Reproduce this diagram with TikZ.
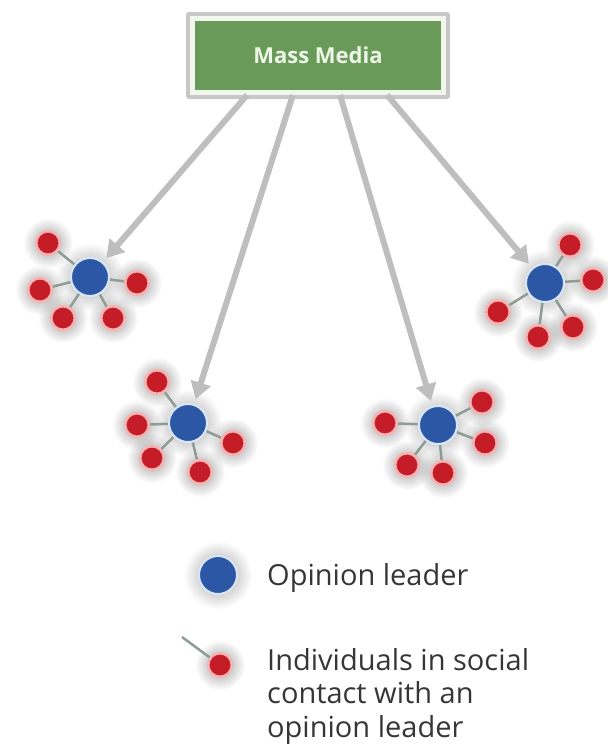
\documentclass[tikz,border=0pt]{standalone}
\usepackage{fontspec}
\setmainfont{Open Sans}
\usetikzlibrary{arrows.meta,calc,fadings}
\definecolor{mmgreen}{HTML}{6A9A5A}
\definecolor{boxrim}{HTML}{F2F7EE}
\definecolor{mmtext}{HTML}{EEF6E8}
\definecolor{arrowgray}{HTML}{BEBEBE}
\definecolor{leaderblue}{HTML}{2B57A4}
\definecolor{leaderrim}{HTML}{D8E6F5}
\definecolor{indred}{HTML}{C51D27}
\definecolor{indrim}{HTML}{F5B3B3}
\definecolor{linkgray}{HTML}{8E9C96}
\definecolor{textgray}{HTML}{363636}
\tikzfading[name=softglow, inner color=transparent!30, outer color=transparent!100]
\tikzset{
  leader/.style={circle, fill=leaderblue, draw=leaderrim, line width=2pt, minimum size=38pt, inner sep=0pt},
  indiv/.style={circle, fill=indred, draw=indrim, line width=2.5pt, minimum size=23.5pt, inner sep=0pt},
  link/.style={draw=linkgray, line width=2.5pt},
  media/.style={-{Triangle[width=20pt,length=17pt]}, draw=arrowgray, fill=arrowgray, line width=6pt, shorten >=5pt},
  glowbig/.style={fill=black!55, path fading=softglow},
  legendtext/.style={text=textgray, font=\fontsize{29}{33.5}\selectfont, inner sep=0pt, align=left}
}
\begin{document}
\begin{tikzpicture}[x=1pt,y=-1pt]
\useasboundingbox (0,0) rectangle (608,745);
% glows
\foreach \p in {(90,277),(188,423),(438,425),(545,283),(218,575)}
  \fill[glowbig] \p circle (34);
\foreach \p in {(48,243),(40,290),(63,318),(113,318),(137,283),
                (157,382),(137,425),(152,458),(200,472),(233,443),
                (385,423),(407,465),(443,473),(485,443),(482,402),
                (570,245),(593,280),(573,327),(538,337),(498,312),(220,665)}
  \fill[glowbig] \p circle (25);
% box shadow and box
\fill[black!22, rounded corners=3pt] (186,12) rectangle (450,99);
\node[fill=mmgreen, draw=boxrim, line width=5pt, minimum width=251pt, minimum height=74pt, inner sep=0pt,
      text=mmtext, font=\fontsize{22}{26}\selectfont\bfseries] (mm) at (318,55.5) {Mass Media};
% leaders
\node[leader] (L1) at (90,277) {};
\node[leader] (L2) at (188,423) {};
\node[leader] (L3) at (438,425) {};
\node[leader] (L4) at (545,283) {};
% arrows from mass media
\draw[media] ($(mm.south west)!0.223!(mm.south east)$) -- (L1);
\draw[media] ($(mm.south west)!0.402!(mm.south east)$) -- (L2);
\draw[media] ($(mm.south west)!0.586!(mm.south east)$) -- (L3);
\draw[media] ($(mm.south west)!0.770!(mm.south east)$) -- (L4);
% individuals
\node[indiv] (L1a) at (48,243) {};
\node[indiv] (L1b) at (40,290) {};
\node[indiv] (L1c) at (63,318) {};
\node[indiv] (L1d) at (113,318) {};
\node[indiv] (L1e) at (137,283) {};
\node[indiv] (L2a) at (157,382) {};
\node[indiv] (L2b) at (137,425) {};
\node[indiv] (L2c) at (152,458) {};
\node[indiv] (L2d) at (200,472) {};
\node[indiv] (L2e) at (233,443) {};
\node[indiv] (L3a) at (385,423) {};
\node[indiv] (L3b) at (407,465) {};
\node[indiv] (L3c) at (443,473) {};
\node[indiv] (L3d) at (485,443) {};
\node[indiv] (L3e) at (482,402) {};
\node[indiv] (L4a) at (570,245) {};
\node[indiv] (L4b) at (593,280) {};
\node[indiv] (L4c) at (573,327) {};
\node[indiv] (L4d) at (538,337) {};
\node[indiv] (L4e) at (498,312) {};
% links
\foreach \c in {1,2,3,4}
  \foreach \i in {a,b,c,d,e}
    \draw[link] (L\c) -- (L\c\i);
% redraw circles on top of links
\foreach \c in {1,2,3,4}{
  \node[leader] at (L\c) {};
  \foreach \i in {a,b,c,d,e}
    \node[indiv] at (L\c\i) {};
}
% legend
\node[leader] (legL) at (218,575) {};
\node[legendtext, anchor=base west] (legLt) at (267,585) {Opinion leader};
\coordinate (legS) at (182,637);
\node[indiv] (legI) at (220,665) {};
\draw[link] (legS) -- (legI);
\node[indiv] at (legI) {};
\node[legendtext, anchor=north west] (legIt) at (267,648) {Individuals in social\\contact with an\\opinion leader};
\end{tikzpicture}
\end{document}
